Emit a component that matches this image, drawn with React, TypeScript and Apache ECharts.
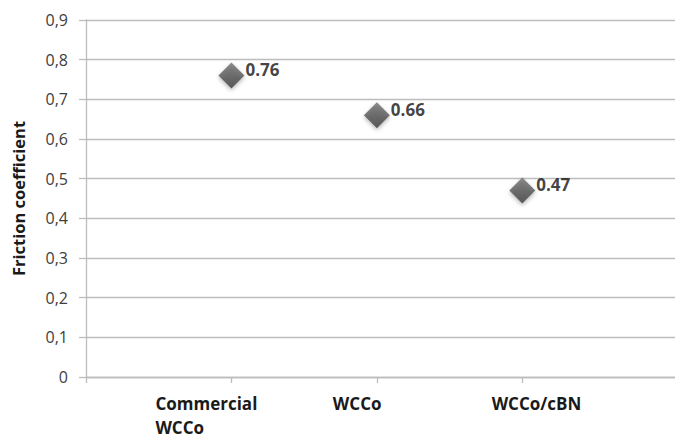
import React, { useEffect, useRef } from "react";
import * as echarts from "echarts";

const categories = ["Commercial\nWCCo", "WCCo", "WCCo/cBN"];
const frictionValues = [0.76, 0.66, 0.47];
const yTicks = [0, 0.1, 0.2, 0.3, 0.4, 0.5, 0.6, 0.7, 0.8, 0.9];
const yAxisTitle = "Friction coefficient";

const FONT = "'Open Sans', 'Noto Sans', sans-serif";

export default function App() {
  const ref = useRef<HTMLDivElement>(null);
  useEffect(() => {
    document.body.style.margin = "0";
    if (!ref.current) return;
    const chart = echarts.init(ref.current, null, { renderer: "svg" });
    const labelWidths = [152, 88, 118];
    const labelAligns = ["left", "left", "right"];
    const rich: Record<string, any> = {};
    categories.forEach((_, i) => {
      rich["l" + i] = {
        width: labelWidths[i],
        align: labelAligns[i],
        fontFamily: FONT,
        fontSize: 17,
        fontWeight: "bold",
        color: "#1a1a1a",
        lineHeight: 24,
      };
    });
    chart.setOption({
      animation: false,
      backgroundColor: "#ffffff",
      grid: { left: 86, right: 0, top: 20, bottom: 59, containLabel: false },
      xAxis: {
        type: "value",
        min: 0,
        max: 4.05,
        interval: 1,
        splitLine: { show: false },
        axisLine: { show: true, onZero: false, lineStyle: { color: "#bdbdbd", width: 1.3 } },
        axisTick: {
          show: true,
          length: 6,
          customValues: [0, 1, 2, 3],
          lineStyle: { color: "#bdbdbd", width: 1.3 },
        },
        axisLabel: {
          customValues: [1, 2, 3],
          margin: 14,
          formatter: (v: number) => {
            const i = Math.round(v) - 1;
            const c = categories[i];
            if (c === undefined) return "";
            return c
              .split("\n")
              .map((s) => `{l${i}|${s}}`)
              .join("\n");
          },
          rich,
        },
      },
      yAxis: {
        type: "value",
        min: yTicks[0],
        max: yTicks[yTicks.length - 1],
        interval: 0.1,
        name: yAxisTitle,
        nameLocation: "middle",
        nameGap: 59,
        nameRotate: 90,
        nameTextStyle: {
          fontFamily: FONT,
          fontSize: 16.5,
          fontWeight: "bold",
          color: "#1a1a1a",
        },
        axisLine: { show: true, lineStyle: { color: "#bdbdbd", width: 1.3 } },
        axisTick: { show: true, length: 7, lineStyle: { color: "#bdbdbd", width: 1.3 } },
        splitLine: { show: true, lineStyle: { color: "#bdbdbd", width: 1.3 } },
        axisLabel: {
          margin: 18,
          fontFamily: FONT,
          fontSize: 16,
          color: "#404040",
          formatter: (v: number) => {
            const r = Math.round(v * 10) / 10;
            return r === 0 ? "0" : r.toFixed(1).replace(".", ",");
          },
        },
      },
      series: [
        {
          type: "scatter",
          symbol: "diamond",
          symbolSize: 26,
          data: frictionValues.map((v, i) => [i + 1, v]),
          itemStyle: {
            color: new echarts.graphic.LinearGradient(0, 0, 0, 1, [
              { offset: 0, color: "#727272" },
              { offset: 0.5, color: "#555555" },
              { offset: 1, color: "#3c3c3c" },
            ]),
            shadowBlur: 4,
            shadowColor: "rgba(0,0,0,0.35)",
            shadowOffsetY: 2,
          },
          label: {
            show: true,
            position: "right",
            distance: 1,
            offset: [0, -6],
            fontFamily: FONT,
            fontSize: 17,
            fontWeight: "bold",
            color: "#111111",
            formatter: (p: any) => p.value[1].toFixed(2),
          },
        },
      ],
    });
    return () => chart.dispose();
  }, []);
  return (
    <div
      ref={ref}
      style={{ width: 675, height: 436, position: "fixed", left: 0, top: 0 }}
    />
  );
}
